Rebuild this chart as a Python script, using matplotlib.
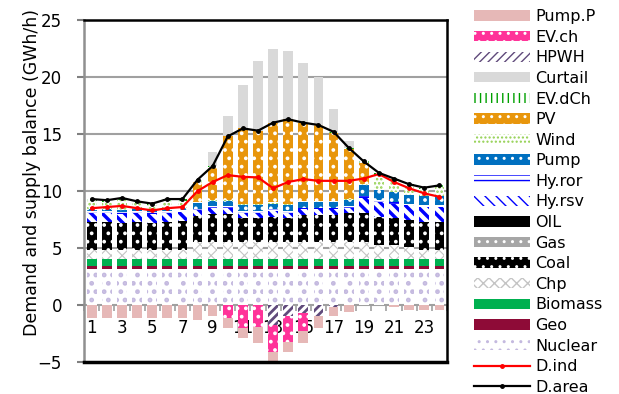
import numpy as np
import matplotlib
matplotlib.use('Agg')
import matplotlib.pyplot as plt

plt.rcParams['font.family'] = ['DejaVu Sans']

hours = list(range(1, 25))

# positive supply (GWh/h), stacked bottom -> top
nuclear = [3.15] * 24
geo = [0.25] * 24
biomass = [0.65] * 24
chp = [0.8] * 7 + [1.45] * 12 + [1.2, 1.2, 1.05, 0.75, 0.75]
coal = [2.45, 2.45, 2.35, 2.45, 2.35, 2.45, 2.55,
        2.3, 2.5, 2.5, 2.1, 2.1, 2.25, 2.1, 2.4, 2.4, 2.4, 2.55, 2.55,
        2.5, 2.35, 2.35, 2.5, 2.5]
gas = [0.0] * 24
oil = [0.0] * 24
hy_rsv = [0.8] * 7 + [0.5] * 11 + [1.35, 1.3, 1.3, 1.3, 1.3, 1.3]
hy_ror = [0.15] * 24
pump = [0.15] * 7 + [0.5] * 11 + [1.0, 0.9, 0.85, 0.8, 0.8, 0.8]
wind = [0.75, 0.65, 0.95, 0.55, 0.45, 0.75, 0.65,
        0.1, 0.1, 0.1, 0.1, 0.1, 0.1, 0.1, 0.1, 0.1, 0.1, 0.1, 0.1,
        1.3, 1.0, 0.75, 0.6, 0.8]
pv = [0, 0, 0, 0, 0, 0, 0,
      1.75, 2.85, 5.55, 6.65, 6.45, 7.0, 7.45, 6.85, 6.65, 5.95, 4.4, 1.85,
      0, 0, 0, 0, 0]
ev_dch = [0.15] * 7 + [0.2, 0.1, 0, 0, 0, 0, 0, 0, 0, 0.1, 0.1, 0.1] + [0.2, 0.2, 0.15, 0.15, 0.15]
curtail = [0, 0, 0, 0, 0, 0, 0, 0, 1.2, 1.8, 3.8, 6.1, 6.5, 6.0, 5.2, 4.2, 2.0, 0.6,
           0, 0, 0, 0, 0, 0]

# negative (consumption), stacked from zero downward
hpwh = [0] * 12 + [-1.75, -1.0, -0.7, -1.0, -0.2] + [0] * 7
ev_ch = [0] * 9 + [-1.1, -2.0, -1.9, -2.35, -2.2, -1.6] + [0] * 9
pump_p = [-1.1] * 7 + [-1.3, -1.0, -0.9, -0.9, -1.4, -1.0, -0.9, -1.05, -1.0, -0.8, -0.6,
                       0, 0, -0.2, -0.4, -0.4, -0.4]

d_ind = [8.5, 8.6, 8.7, 8.5, 8.3, 8.5, 8.6, 10.0, 10.8, 11.4, 11.25, 11.2, 10.25, 10.8,
         11.05, 10.9, 10.9, 10.9, 11.1, 11.5, 10.8, 10.25, 9.8, 9.5]
d_area = [9.3, 9.2, 9.4, 9.1, 8.9, 9.3, 9.3, 11.0, 12.2, 14.8, 15.5, 15.3, 16.0, 16.3,
          16.0, 15.8, 15.2, 13.8, 12.6, 11.6, 11.1, 10.6, 10.3, 10.5]

# name, values, face, hatch colour, hatch, hatch width
pos_layers = [
    ('Nuclear', nuclear, 'white', '#c4b9df', '..', 2.2),
    ('Geo', geo, '#8e0b37', '#8e0b37', None, 1),
    ('Biomass', biomass, '#00b050', '#00b050', None, 1),
    ('Chp', chp, 'white', '#c4c4c4', 'xxx', 0.8),
    ('Coal', coal, 'black', 'white', '..', 1.5),
    ('Gas', gas, '#a6a6a6', 'white', '..', 1.5),
    ('OIL', oil, 'black', 'black', None, 1),
    ('Hy.rsv', hy_rsv, 'white', '#0000ff', '\\\\\\', 2.5),
    ('Hy.ror', hy_ror, 'white', '#0000ff', '---', 1.5),
    ('Pump', pump, '#0070c0', 'white', '..', 1.5),
    ('Wind', wind, 'white', '#92d050', '....', 1.2),
    ('PV', pv, '#e8960c', 'white', '..', 1.5),
    ('EV.dCh', ev_dch, 'white', '#00a000', '|||', 1.5),
    ('Curtail', curtail, '#d9d9d9', '#d9d9d9', None, 1),
]
neg_layers = [
    ('HPWH', hpwh, 'white', '#604a7b', '////', 2.0),
    ('EV.ch', ev_ch, '#ff3399', 'white', '..', 1.5),
    ('Pump.P', pump_p, '#e6b8b7', '#e6b8b7', None, 1),
]

fig = plt.figure(figsize=(6.19, 3.94), dpi=100)
ax = fig.add_axes([0.136, 0.081, 0.586, 0.868])

x = np.arange(len(hours))
w = 0.64
handles = {}
for layers in (pos_layers, neg_layers):
    bottom = np.zeros(len(hours))
    for name, vals, fc, hc, h, hw in layers:
        v = np.array(vals, dtype=float)
        with plt.rc_context({'hatch.linewidth': hw}):
            b = ax.bar(x, v, w, bottom=bottom, color=fc, edgecolor=hc, hatch=h,
                       linewidth=0, zorder=2)
        handles[name] = b
        bottom = bottom + v

ln1, = ax.plot(x, d_ind, color='red', lw=1.6, marker='o', ms=2.5, zorder=4)
ln2, = ax.plot(x, d_area, color='black', lw=1.6, marker='o', ms=2.5, zorder=5)
handles['D.ind'] = ln1
handles['D.area'] = ln2

ax.set_xlim(-0.5, 23.5)
ax.set_ylim(-5, 25)
ax.set_yticks(range(-5, 26, 5))
ax.tick_params(axis='y', labelsize=12, color='#808080', length=5, width=1.5, pad=11)
for y in [5, 10, 15, 20]:
    ax.axhline(y, color='#a0a0a0', lw=1.5, zorder=1)

ax.spines['left'].set_color('#909090')
ax.spines['left'].set_linewidth(1.8)
for s in ['top', 'right']:
    ax.spines[s].set_color('black')
    ax.spines[s].set_linewidth(1.8)
ax.spines['bottom'].set_position(('data', 0))
ax.spines['bottom'].set_color('#a0a0a0')
ax.spines['bottom'].set_linewidth(1.5)
ax.spines['bottom'].set_zorder(1)
ax.plot([-0.5, 23.5], [-5, -5], color='black', lw=2.5, clip_on=False, zorder=6)

ax.set_xticks(np.arange(-0.5, 24, 1), minor=True)
ax.set_xticks(x[::2])
ax.set_xticklabels([str(h) for h in hours[::2]], fontsize=12)
ax.tick_params(axis='x', which='major', length=0, pad=10)
ax.tick_params(axis='x', which='minor', length=4, color='#a0a0a0', width=1.2)

ax.set_ylabel('Demand and supply balance (GWh/h)', fontsize=12.5)
ax.yaxis.set_label_coords(-0.12, 0.555)

order = ['Pump.P', 'EV.ch', 'HPWH', 'Curtail', 'EV.dCh', 'PV', 'Wind', 'Pump', 'Hy.ror',
         'Hy.rsv', 'OIL', 'Gas', 'Coal', 'Chp', 'Biomass', 'Geo', 'Nuclear', 'D.ind', 'D.area']
fig.legend([handles[k] for k in order], order, loc='upper left', bbox_to_anchor=(0.755, 0.993),
           frameon=False, fontsize=11.5, handlelength=3.5, handleheight=0.62,
           labelspacing=0.35, handletextpad=0.35, borderaxespad=0)

plt.savefig('out.png', dpi=100)
